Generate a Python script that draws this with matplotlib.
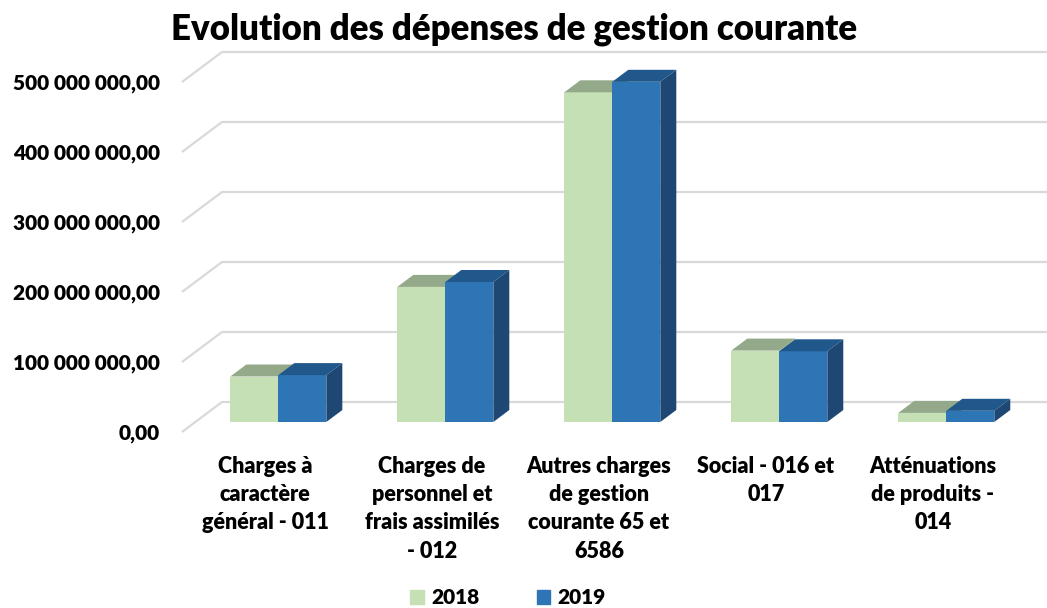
import matplotlib
matplotlib.use("Agg")
import matplotlib.pyplot as plt
from matplotlib.patches import Polygon, Patch

plt.rcParams['font.family'] = ['Lato', 'DejaVu Sans']
plt.rcParams['font.weight'] = 'bold'

# data
categories = ["Charges à\ncaractère\ngénéral - 011",
              "Charges de\npersonnel et\nfrais assimilés\n- 012",
              "Autres charges\nde gestion\ncourante 65 et\n6586",
              "Social - 016 et\n017",
              "Atténuations\nde produits -\n014"]
val_2018 = [65e6, 193e6, 471e6, 102e6, 13e6]
val_2019 = [67e6, 200e6, 486e6, 101e6, 16e6]
yticks = [0, 100e6, 200e6, 300e6, 400e6, 500e6]
ytick_labels = ["0,00", "100 000 000,00", "200 000 000,00",
                "300 000 000,00", "400 000 000,00", "500 000 000,00"]

green_front, green_top = "#C5E0B4", "#93A98A"
blue_front, blue_top, blue_side = "#2E75B6", "#21588C", "#1E4873"

W, H = 1047, 608
fig = plt.figure(figsize=(W / 100, H / 100), dpi=100)
# axes: front floor line at y=432px, 0.7px per million
ax = fig.add_axes([182 / W, (H - 432) / H, (W - 182) / W, 400 / H])
ax.set_xlim(-0.497, 4.683)
ax.set_ylim(0, 400 / 0.7e-6)

# depth of the back wall (data units) and bar geometry
wall_dx, wall_dy = 40 / 167, 30 / 0.7e-6
bar_w = 48 / 167
bar_dx, bar_dy = 0.4 * wall_dx, 0.4 * wall_dy
x0 = ax.get_xlim()[0]
x1 = ax.get_xlim()[1]

# gridlines: diagonal at the side, then along the back wall
for v in yticks:
    ax.plot([x0, x0 + wall_dx, x1], [v, v + wall_dy, v + wall_dy],
            color="#D9D9D9", lw=1.6, solid_capstyle="butt", zorder=1, clip_on=False)


def draw_bar(xl, v, front, top, side):
    base = wall_dy / 3
    xr = xl + bar_w
    ax.add_patch(Polygon([(xl, base), (xr, base), (xr, base + v), (xl, base + v)],
                         closed=True, fc=front, ec="none", zorder=3))
    ax.add_patch(Polygon([(xl, base + v), (xr, base + v), (xr + bar_dx, base + v + bar_dy),
                          (xl + bar_dx, base + v + bar_dy)],
                         closed=True, fc=top, ec="none", zorder=3))
    ax.add_patch(Polygon([(xr, base), (xr, base + v), (xr + bar_dx, base + v + bar_dy),
                          (xr + bar_dx, base + bar_dy)],
                         closed=True, fc=side, ec="none", zorder=3))


for i in range(len(categories)):
    mid = i + wall_dx / 3
    draw_bar(mid - bar_w, val_2018[i], green_front, green_top, green_top)
    draw_bar(mid, val_2019[i], blue_front, blue_top, blue_side)

ax.set_yticks(yticks)
ax.set_yticklabels(ytick_labels, fontsize=15, fontweight="heavy")
ax.set_xticks(range(len(categories)))
ax.set_xticklabels(categories, fontsize=15.5, fontweight="heavy", linespacing=1.43, va="top")
ax.tick_params(axis="y", length=0, pad=16)
ax.tick_params(axis="x", length=0, pad=17)
for s in ax.spines.values():
    s.set_visible(False)

fig.text(514 / W, 1 - 29 / H, "Evolution des dépenses de gestion courante",
         ha="center", va="center", fontsize=25, fontweight="heavy")

handles = [Patch(color=green_front, label="2018"), Patch(color=blue_front, label="2019")]
fig.legend(handles=handles, loc="center", bbox_to_anchor=(508 / W, 1 - 598 / H), ncol=2,
           frameon=False, handlelength=0.65, handleheight=0.65,
           handletextpad=0.35, columnspacing=2.75, prop={"weight": "heavy", "size": 15})

fig.savefig("out.png", dpi=100)
